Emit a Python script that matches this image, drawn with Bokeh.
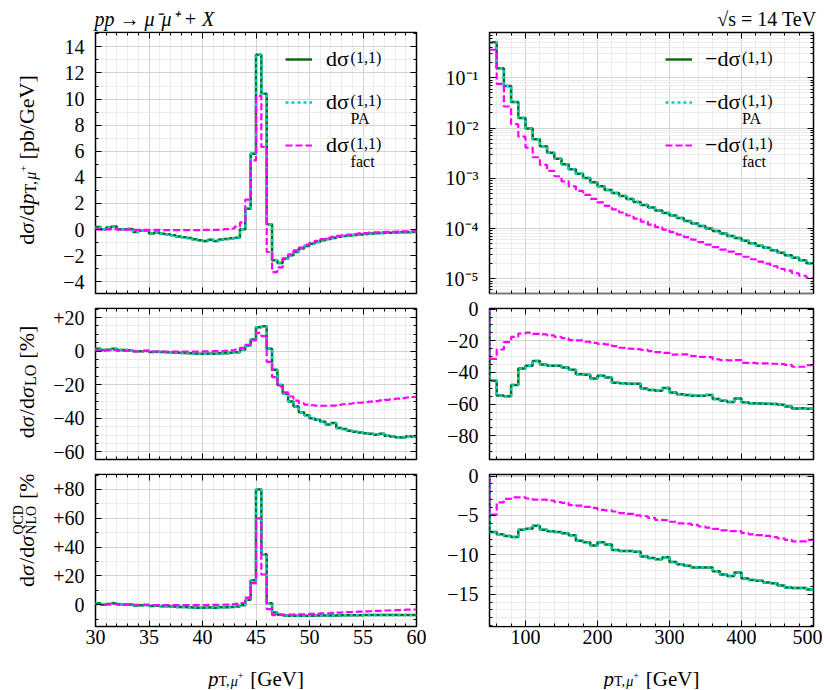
import math
import numpy as np
from bokeh.plotting import figure
from bokeh.layouts import column, row
from bokeh.models import (FixedTicker, Label, Legend, LegendItem, LinearAxis,
                          LogAxis, Range1d)
from bokeh.embed import file_html
from bokeh.resources import INLINE

FONT = "Liberation Serif"

# ---------------- data ----------------
left_edges = np.arange(30.0, 60.01, 0.5)      # 0.5 GeV bins
right_edges = np.arange(50.0, 500.01, 10.0)   # 10 GeV bins

# top-left: dsigma/dpT [pb/GeV]
tl_full = [0.20, 0.03, 0.15, 0.23, 0.03, 0.03, 0.05, -0.18, -0.10, -0.08,
           -0.30, -0.23, -0.33, -0.36, -0.44, -0.54, -0.59, -0.64, -0.74, -0.82,
           -0.87, -0.79, -0.87, -0.77, -0.72, -0.67, -0.62, 0.02, 1.60, 5.80,
           13.40, 10.40, 0.40, -2.36, -2.56, -2.23, -1.97, -1.72, -1.46, -1.26,
           -1.08, -0.95, -0.82, -0.72, -0.64, -0.56, -0.50, -0.45, -0.41, -0.37,
           -0.34, -0.31, -0.29, -0.27, -0.25, -0.24, -0.22, -0.21, -0.20, -0.19]
tl_pa = [0.20, 0.03, 0.15, 0.23, 0.03, 0.03, 0.05, -0.18, -0.10, -0.08,
         -0.30, -0.23, -0.33, -0.36, -0.44, -0.54, -0.59, -0.64, -0.74, -0.82,
         -0.87, -0.79, -0.87, -0.77, -0.72, -0.67, -0.62, 0.02, 1.60, 5.80,
         13.40, 10.40, 0.40, -2.36, -2.56, -2.23, -1.97, -1.72, -1.46, -1.26,
         -1.08, -0.95, -0.82, -0.72, -0.64, -0.56, -0.50, -0.45, -0.41, -0.37,
         -0.34, -0.31, -0.29, -0.27, -0.25, -0.24, -0.22, -0.21, -0.20, -0.19]
tl_fact = [0.02, 0.00, 0.02, 0.03, 0.00, 0.00, 0.00, -0.03, -0.02, -0.02,
           -0.04, -0.03, -0.04, -0.04, -0.04, -0.04, -0.04, -0.04, -0.04, -0.04,
           -0.03, -0.02, -0.02, 0.00, 0.03, 0.08, 0.22, 0.55, 2.30, 5.30,
           10.25, 6.33, -1.72, -3.26, -2.90, -2.20, -1.90, -1.60, -1.38, -1.18,
           -1.00, -0.86, -0.74, -0.64, -0.56, -0.49, -0.43, -0.38, -0.34, -0.30,
           -0.27, -0.24, -0.22, -0.20, -0.18, -0.17, -0.16, -0.14, -0.13, -0.12]

# middle-left: dsigma/dsigma_LO [%]
ml_full = [1.5, 0.7, 0.9, 1.5, 0.7, 0.7, 0.5, 0.0, 0.0, 0.2,
           -0.5, -0.3, -0.5, -0.6, -0.8, -1.0, -1.1, -1.2, -1.4, -1.5,
           -1.6, -1.4, -1.5, -1.3, -1.2, -1.0, -0.6, 0.8, 3.3, 6.9,
           14.2, 14.8, 1.5, -11.0, -20.1, -25.3, -29.9, -32.9, -36.4, -38.2,
           -40.0, -40.8, -42.0, -43.6, -42.8, -45.8, -46.4, -47.4, -48.0, -48.4,
           -48.8, -49.2, -49.7, -49.2, -50.4, -50.8, -51.2, -51.4, -50.6, -51.0]
ml_pa = [1.5, 0.7, 0.9, 1.5, 0.7, 0.7, 0.5, 0.0, 0.0, 0.2,
         -0.5, -0.3, -0.5, -0.6, -0.8, -1.0, -1.1, -1.2, -1.4, -1.5,
         -1.6, -1.4, -1.5, -1.3, -1.2, -1.0, -0.6, 0.8, 3.3, 6.9,
         14.2, 14.8, 1.5, -11.0, -20.1, -25.3, -29.9, -32.9, -36.4, -38.2,
         -40.0, -40.8, -42.0, -43.6, -42.8, -45.8, -46.4, -47.4, -48.0, -48.4,
         -48.8, -49.2, -49.7, -49.2, -50.4, -50.8, -51.2, -51.4, -50.6, -51.0]
ml_fact = [0.6, 0.3, 0.5, 0.6, 0.2, 0.2, 0.1, -0.1, -0.1, 0.0,
           -0.2, -0.2, -0.2, -0.2, -0.2, -0.2, -0.2, -0.2, -0.2, -0.2,
           -0.1, -0.1, 0.0, 0.0, 0.2, 0.5, 1.0, 2.0, 3.8, 6.4,
           10.9, 9.0, -6.4, -15.5, -21.0, -24.5, -27.0, -29.5, -31.0, -31.8,
           -32.2, -32.4, -32.5, -32.5, -32.4, -32.0, -31.6, -31.3, -31.0, -30.7,
           -30.4, -30.0, -29.7, -29.3, -29.0, -28.6, -28.3, -28.0, -27.6, -27.3]

# bottom-left: dsigma/dsigma_NLO^QCD [%]
bl_full = [1.0, 0.0, 0.5, 1.0, 0.3, 0.2, 0.2, -0.5, -0.3, -0.2,
           -0.9, -0.7, -1.0, -1.1, -1.3, -1.5, -1.6, -1.7, -1.9, -2.0,
           -2.1, -1.9, -2.0, -1.8, -1.7, -1.5, -1.2, -0.3, 3.5, 17.0,
           80.0, 35.0, 1.0, -5.3, -7.0, -7.4, -7.6, -7.7, -7.7, -7.6,
           -7.6, -7.5, -7.5, -7.4, -7.4, -7.4, -7.3, -7.3, -7.3, -7.3,
           -7.2, -7.2, -7.2, -7.2, -7.2, -7.1, -7.1, -7.1, -7.1, -7.1]
bl_pa = [1.0, 0.0, 0.5, 1.0, 0.3, 0.2, 0.2, -0.5, -0.3, -0.2,
         -0.9, -0.7, -1.0, -1.1, -1.3, -1.5, -1.6, -1.7, -1.9, -2.0,
         -2.1, -1.9, -2.0, -1.8, -1.7, -1.5, -1.2, -0.3, 3.5, 17.0,
         80.0, 35.0, 1.0, -5.3, -7.0, -7.4, -7.6, -7.7, -7.7, -7.6,
         -7.6, -7.5, -7.5, -7.4, -7.4, -7.4, -7.3, -7.3, -7.3, -7.3,
         -7.2, -7.2, -7.2, -7.2, -7.2, -7.1, -7.1, -7.1, -7.1, -7.1]
bl_fact = [0.4, 0.0, 0.2, 0.4, 0.1, 0.1, 0.0, -0.1, -0.1, 0.0,
           -0.2, -0.2, -0.2, -0.2, -0.2, -0.2, -0.2, -0.2, -0.2, -0.2,
           -0.2, -0.1, -0.1, 0.0, 0.1, 0.3, 0.6, 1.2, 5.0, 15.0,
           60.0, 21.0, -3.0, -7.2, -7.1, -6.9, -6.8, -6.7, -6.6, -6.5,
           -6.4, -6.2, -6.0, -5.9, -5.7, -5.5, -5.3, -5.1, -5.0, -4.8,
           -4.6, -4.5, -4.3, -4.2, -4.0, -3.9, -3.7, -3.6, -3.4, -3.3]

# top-right: -dsigma/dpT [pb/GeV] (log)
tr_full = [0.51, 0.155, 0.0692, 0.0331, 0.0158, 0.00977, 0.00603, 0.00437, 0.00324, 0.00245,
           0.00191, 0.00151, 0.00123, 0.00102, 0.000832, 0.000692, 0.000589, 0.000513, 0.000447, 0.000389,
           0.000339, 0.000295, 0.000263, 0.000229, 0.000204, 0.000182, 0.000162, 0.000141, 0.000126, 0.000112,
           0.000100, 8.91e-5, 7.94e-5, 7.08e-5, 6.46e-5, 5.75e-5, 5.13e-5, 4.57e-5, 4.17e-5, 3.72e-5,
           3.31e-5, 2.95e-5, 2.63e-5, 2.34e-5, 2.04e-5]
tr_pa = [0.51, 0.155, 0.0692, 0.0331, 0.0158, 0.00977, 0.00603, 0.00437, 0.00324, 0.00245,
         0.00191, 0.00151, 0.00123, 0.00102, 0.000832, 0.000692, 0.000589, 0.000513, 0.000447, 0.000389,
         0.000339, 0.000295, 0.000263, 0.000229, 0.000204, 0.000182, 0.000162, 0.000141, 0.000126, 0.000112,
         0.000100, 8.91e-5, 7.94e-5, 7.08e-5, 6.46e-5, 5.75e-5, 5.13e-5, 4.57e-5, 4.17e-5, 3.72e-5,
         3.31e-5, 2.95e-5, 2.63e-5, 2.34e-5, 2.04e-5]
tr_fact = [0.363, 0.0759, 0.0269, 0.0120, 0.00676, 0.00407, 0.00263, 0.00186, 0.00141, 0.00110,
           0.000871, 0.000692, 0.000562, 0.000468, 0.000389, 0.000331, 0.000282, 0.000240, 0.000209, 0.000182,
           0.000158, 0.000138, 0.000120, 0.000107, 9.55e-5, 8.51e-5, 7.59e-5, 6.76e-5, 6.03e-5, 5.37e-5,
           4.79e-5, 4.27e-5, 3.80e-5, 3.47e-5, 3.09e-5, 2.75e-5, 2.45e-5, 2.19e-5, 2.00e-5, 1.78e-5,
           1.58e-5, 1.45e-5, 1.29e-5, 1.15e-5, 1.05e-5]

# middle-right: dsigma/dsigma_LO [%]
mr_full = [-45.3, -54.5, -55.0, -48.0, -37.5, -35.8, -32.8, -35.0, -35.8, -35.8,
           -36.8, -38.3, -41.1, -41.5, -43.8, -42.1, -43.2, -46.5, -46.9, -47.1,
           -47.1, -50.1, -51.1, -51.5, -49.8, -52.6, -53.7, -54.3, -54.7, -54.7,
           -54.3, -56.8, -57.9, -58.7, -56.4, -58.9, -59.4, -59.6, -59.8, -60.0,
           -60.4, -61.5, -62.8, -62.6, -63.0]
mr_pa = [-45.3, -54.5, -55.0, -48.0, -37.5, -35.8, -32.8, -35.0, -35.8, -35.8,
         -36.8, -38.3, -41.1, -41.5, -43.8, -42.1, -43.2, -46.5, -46.9, -47.1,
         -47.1, -50.1, -51.1, -51.5, -49.8, -52.6, -53.7, -54.3, -54.7, -54.7,
         -54.3, -56.8, -57.9, -58.7, -56.4, -58.9, -59.4, -59.6, -59.8, -60.0,
         -60.4, -61.5, -62.8, -62.6, -63.0]
mr_fact = [-31.4, -25.5, -20.8, -17.5, -15.4, -14.9, -15.6, -16.0, -16.6, -17.5,
           -18.3, -19.6, -19.8, -20.6, -21.3, -21.9, -22.3, -23.4, -24.4, -25.0,
           -25.3, -25.7, -26.5, -27.2, -27.6, -28.8, -28.6, -28.6, -29.7, -30.1,
           -30.3, -31.8, -32.2, -32.4, -32.2, -33.9, -33.9, -34.3, -34.3, -34.5,
           -34.7, -35.2, -36.4, -36.4, -35.4]

# bottom-right: dsigma/dsigma_NLO^QCD [%]
br_full = [-7.1, -7.4, -7.6, -7.75, -6.8, -6.7, -6.3, -6.8, -7.0, -7.1,
           -7.25, -7.5, -8.2, -8.4, -8.8, -8.4, -8.7, -9.4, -9.5, -9.5,
           -9.6, -10.2, -10.4, -10.55, -10.3, -10.9, -11.2, -11.4, -11.6, -11.6,
           -11.6, -12.1, -12.5, -12.7, -12.25, -13.0, -13.2, -13.3, -13.5, -13.6,
           -13.9, -14.15, -14.2, -14.2, -14.4]
br_pa = [-7.1, -7.4, -7.6, -7.75, -6.8, -6.7, -6.3, -6.8, -7.0, -7.1,
         -7.25, -7.5, -8.2, -8.4, -8.8, -8.4, -8.7, -9.4, -9.5, -9.5,
         -9.6, -10.2, -10.4, -10.55, -10.3, -10.9, -11.2, -11.4, -11.6, -11.6,
         -11.6, -12.1, -12.5, -12.7, -12.25, -13.0, -13.2, -13.3, -13.5, -13.6,
         -13.9, -14.15, -14.2, -14.2, -14.4]
br_fact = [-4.9, -3.35, -2.9, -2.7, -2.7, -2.85, -3.0, -3.0, -3.1, -3.3,
           -3.4, -3.7, -3.75, -3.9, -4.05, -4.3, -4.35, -4.5, -4.7, -4.8,
           -5.0, -5.1, -5.3, -5.55, -5.6, -5.8, -6.0, -6.05, -6.2, -6.4,
           -6.55, -6.7, -6.9, -7.0, -7.0, -7.25, -7.4, -7.5, -7.6, -7.75,
           -7.9, -8.1, -8.3, -8.3, -8.1]

# ticks and tick labels
left_x_ticks = [30, 35, 40, 45, 50, 55, 60]
left_x_labels = ["30", "35", "40", "45", "50", "55", "60"]
right_x_ticks = [100, 200, 300, 400, 500]
right_x_labels = ["100", "200", "300", "400", "500"]
tl_y_ticks = [-4, -2, 0, 2, 4, 6, 8, 10, 12, 14]
tl_y_labels = ["\u22124", "\u22122", "0", "2", "4", "6", "8", "10", "12", "14"]
ml_y_ticks = [-60, -40, -20, 0, 20]
ml_y_labels = ["\u221260", "\u221240", "\u221220", "0", "+20"]
bl_y_ticks = [0, 20, 40, 60, 80]
bl_y_labels = ["0", "+20", "+40", "+60", "+80"]
tr_y_ticks = [1e-5, 1e-4, 1e-3, 1e-2, 1e-1]
tr_y_labels = ["10\u207b\u2075", "10\u207b\u2074", "10\u207b\u00b3", "10\u207b\u00b2", "10\u207b\u00b9"]
mr_y_ticks = [-80, -60, -40, -20, 0]
mr_y_labels = ["\u221280", "\u221260", "\u221240", "\u221220", "0"]
brr_y_ticks = [-15, -10, -5, 0]
brr_y_labels = ["\u221215", "\u221210", "\u22125", "0"]

TITLE_LEFT = "pp \u2192 \u03bc\u207b\u03bc\u207a + X"
TITLE_RIGHT = "\u221as = 14 TeV"

GREEN = "#0a6e0a"
CYAN = "#00cccc"
MAGENTA = "#ff00ff"

# ---------------- helpers ----------------
REG = {' ': 0.25, '(': 0.333, ')': 0.333, ',': 0.25, '/': 0.278, '[': 0.333,
       ']': 0.333, '+': 0.564, '\u2212': 0.564, '=': 0.564, '%': 0.833,
       '\u2192': 1.0, '\u221a': 0.55, 'A': 0.722, 'C': 0.667, 'D': 0.722,
       'G': 0.722, 'L': 0.611, 'N': 0.722, 'O': 0.722, 'P': 0.556, 'Q': 0.722,
       'T': 0.611, 'V': 0.722, 'X': 0.722, 'a': 0.444, 'b': 0.5, 'c': 0.444,
       'd': 0.5, 'e': 0.444, 'f': 0.333, 'p': 0.5, 't': 0.278, 's': 0.389,
       '\u03c3': 0.55, '\u03bc': 0.5}
ITA = {'p': 0.5, 's': 0.389, 'X': 0.611, '\u03c3': 0.55, '\u03bc': 0.5}


def tw(text, size, ital):
    tab = ITA if ital else REG
    return sum(tab.get(ch, REG.get(ch, 0.5)) for ch in text) * size


def rich(p, pieces, x0, y0, vertical=False, align="center"):
    """Place a run of text pieces (text, size, italic, baseline shift[, advance])."""
    widths = []
    for pc in pieces:
        widths.append(pc[4] if len(pc) > 4 else tw(pc[0], pc[1], pc[2]))
    total = sum(widths)
    pos = {"center": -total / 2.0, "right": -total, "left": 0.0}[align]
    for pc, wd in zip(pieces, widths):
        text, size, ital, dy = pc[:4]
        if text.strip():
            if vertical:
                x, y, ang = x0 + dy, y0 + pos, math.pi / 2
            else:
                x, y, ang = x0 + pos, y0 - dy, 0.0
            p.add_layout(Label(x=x, y=y, x_units="screen", y_units="screen",
                               text=text, angle=ang, text_font=FONT,
                               text_font_size=f"{size}px",
                               text_font_style="italic" if ital else "normal",
                               text_color="black", text_baseline="alphabetic",
                               text_align="left"))
        pos += wd


def stairs(edges, vals, baseline=True):
    xs = list(edges[:-1]) + [edges[-1]]
    ys = list(vals) + [vals[-1]]
    if baseline:
        xs = [edges[0]] + xs
        ys = [0.0] + ys
    return xs, ys


def style_axis(ax, ticks, minor, labels, show, standoff):
    ax.ticker = FixedTicker(ticks=ticks, minor_ticks=minor)
    ax.axis_line_color = None
    ax.major_tick_in = 6
    ax.major_tick_out = 0
    ax.minor_tick_in = 3
    ax.minor_tick_out = 0
    ax.major_tick_line_color = "black"
    ax.minor_tick_line_color = "black"
    if show:
        ax.major_label_overrides = {float(t): l for t, l in zip(ticks, labels)}
        ax.major_label_text_font = FONT
        ax.major_label_text_font_size = "20px"
        ax.major_label_text_color = "black"
        ax.major_label_standoff = standoff
    else:
        ax.major_label_text_font_size = "0px"
        ax.major_label_text_color = None
        ax.major_label_standoff = 0


def make_fig(w, h, bl, brd, bt, bb, xr, yr, xt, xmin, xl, yt, ymin, yl,
             show_x, ylog=False):
    p = figure(width=w, height=h, x_range=Range1d(*xr), y_range=Range1d(*yr),
               y_axis_type="log" if ylog else "linear",
               output_backend="svg", toolbar_location=None,
               min_border_left=bl, min_border_right=brd,
               min_border_top=bt, min_border_bottom=bb)
    p.outline_line_color = "black"
    p.outline_line_width = 1.5
    p.background_fill_color = "white"
    p.border_fill_color = "white"
    style_axis(p.xaxis[0], xt, xmin, xl, show_x, 3)
    style_axis(p.yaxis[0], yt, ymin, yl, True, 11)
    top_ax = LinearAxis()
    style_axis(top_ax, xt, xmin, xl, False, 0)
    p.add_layout(top_ax, "above")
    right_ax = LogAxis() if ylog else LinearAxis()
    style_axis(right_ax, yt, ymin, yl, False, 0)
    p.add_layout(right_ax, "right")
    for g in (p.xgrid[0], p.ygrid[0]):
        g.grid_line_color = "#d4d4d4"
        g.grid_line_width = 1
        g.minor_grid_line_color = "#ececec"
        g.minor_grid_line_width = 1
    return p


def text_strip(w, h):
    p = figure(width=w, height=h, x_range=Range1d(0, 1), y_range=Range1d(0, 1),
               x_axis_location=None, y_axis_location=None,
               output_backend="svg", toolbar_location=None, min_border=0,
               min_border_left=0, min_border_right=0, min_border_top=0,
               min_border_bottom=0)
    p.outline_line_color = None
    p.grid.visible = False
    p.background_fill_color = "white"
    p.border_fill_color = "white"
    return p


def draw(p, edges, full, pa, fact, baseline=True):
    rs = []
    for vals, col, dash, lw in ((full, GREEN, "solid", 2.5),
                                (pa, CYAN, "3 3", 2.5),
                                (fact, MAGENTA, "7 3", 2.2)):
        xs, ys = stairs(edges, vals, baseline)
        rs.append(p.step(x=xs, y=ys, mode="after", line_color=col,
                         line_width=lw, line_dash=dash))
    return rs


# ---------------- geometry (absolute page pixels) ----------------
YLW = 48                      # strip for the y-axis titles
LW, RW = 378, 396             # left / right plot widths
L_BL, L_BR = 47, 10           # left frame 95..416
R_BL, R_BR = 63, 9            # right frame 489..813
TW = YLW + LW + RW            # 822
B_H, C_H, D_H, E_H = 296, 166, 191, 36
B_TOP = 32                    # top-row frame starts at page y 32 (titles above)
C_TOP_PAGE, D_TOP_PAGE, E_TOP = 296, 462, 653

left_minor_x = [v for v in range(30, 61) if v % 5]
right_minor_x = [v for v in range(60, 500, 20) if v % 100]
log_minor = [k * 10.0 ** e for e in range(-6, 0) for k in range(2, 10)]

# top row: frame 32..293
p1 = make_fig(LW, B_H, L_BL, L_BR, B_TOP, 3, (30, 60), (-4.9, 15.1),
              left_x_ticks, left_minor_x, left_x_labels,
              tl_y_ticks, [v for v in range(-4, 16) if v % 2], tl_y_labels, False)
r1 = draw(p1, left_edges, tl_full, tl_pa, tl_fact)
p2 = make_fig(RW, B_H, R_BL, R_BR, B_TOP, 3, (50, 500), (5.1e-6, 0.8),
              right_x_ticks, right_minor_x, right_x_labels,
              tr_y_ticks, log_minor, tr_y_labels, False, ylog=True)
r2 = draw(p2, right_edges, tr_full, tr_pa, tr_fact, baseline=False)

for pt, txt, al, off, style in ((p1, TITLE_LEFT, "left", -1, "italic"),
                                (p2, TITLE_RIGHT, "right", -3, "normal")):
    pt.title.text = txt
    pt.title.align = al
    pt.title.offset = off
    pt.title.standoff = 6
    pt.title.text_font = FONT
    pt.title.text_font_size = "20px"
    pt.title.text_font_style = style
    pt.title.text_color = "black"

# middle row: frame 308..459
p3 = make_fig(LW, C_H, L_BL, L_BR, 12, 3, (30, 60), (-64.5, 25.4),
              left_x_ticks, left_minor_x, left_x_labels,
              ml_y_ticks, [v for v in range(-65, 26, 5) if v % 20], ml_y_labels, False)
draw(p3, left_edges, ml_full, ml_pa, ml_fact)
p4 = make_fig(RW, C_H, R_BL, R_BR, 12, 3, (50, 500), (-95, 0.4),
              right_x_ticks, right_minor_x, right_x_labels,
              mr_y_ticks, [v for v in range(-95, 1, 5) if v % 20], mr_y_labels, False)
draw(p4, right_edges, mr_full, mr_pa, mr_fact)

# bottom row: frame 474..626
p5 = make_fig(LW, D_H, L_BL, L_BR, 12, 27, (30, 60), (-15.1, 90.4),
              left_x_ticks, left_minor_x, left_x_labels,
              bl_y_ticks, [-10, 10, 30, 50, 70, 90], bl_y_labels, True)
draw(p5, left_edges, bl_full, bl_pa, bl_fact)
p6 = make_fig(RW, D_H, R_BL, R_BR, 12, 27, (50, 500), (-19.1, 0.2),
              right_x_ticks, right_minor_x, right_x_labels,
              brr_y_ticks, [v for v in range(-19, 1) if v % 5], brr_y_labels, True)
draw(p6, right_edges, br_full, br_pa, br_fact)

# ---------------- legends ----------------
LEG_FS = 22
SUP_FS = 16
rows_mid = [59, 102, 145]      # page y of the legend rows
FRAME_BOTTOM = 293             # page y of the top-row frame bottom


def add_legend(p, renderers, main, vx, gw, standoff):
    items = [LegendItem(label=main, renderers=[r]) for r in renderers]
    leg = Legend(items=items, location=(vx, 128), orientation="vertical",
                 glyph_width=gw, glyph_height=40, label_height=40,
                 label_standoff=standoff, spacing=3, padding=0, margin=0,
                 border_line_color=None, background_fill_alpha=0,
                 label_text_font=FONT, label_text_font_size=f"{LEG_FS}px",
                 label_text_color="black")
    p.add_layout(leg)
    x_after = vx + gw + standoff + tw(main, LEG_FS, False) + 1
    subs = [None, "PA", "fact"]
    for i, mid in enumerate(rows_mid):
        rich(p, [("(1,1)", SUP_FS, False, 0)], x_after,
             FRAME_BOTTOM - (mid - 2), align="left")
        if subs[i]:
            rich(p, [(subs[i], SUP_FS, False, 0)], x_after,
                 FRAME_BOTTOM - (mid + 16), align="left")


add_legend(p1, r1, "d\u03c3", 190, 27, 14)
add_legend(p2, r2, "\u2212d\u03c3", 176, 27, 13)

# ---------------- y-axis title strips ----------------
AX_FS = 22
SUB_FS = 16
yl1 = text_strip(YLW, B_H)
yl2 = text_strip(YLW, C_H)
yl3 = text_strip(YLW, D_H)
YBASE = 26
SP = ("", 0, False, 0, 6)
rich(yl1, [("d", AX_FS, False, 0), ("\u03c3", AX_FS, True, 0), ("/", AX_FS, False, 0),
           ("d", AX_FS, False, 0), ("p", AX_FS, True, 0), ("T,", SUB_FS, False, 4),
           ("\u03bc", SUB_FS, True, 4), ("+", 11, False, -3), SP,
           ("[pb/GeV]", AX_FS, False, 0)],
     YBASE, B_H - 162.5, vertical=True)
rich(yl2, [("d", AX_FS, False, 0), ("\u03c3", AX_FS, True, 0), ("/", AX_FS, False, 0),
           ("d", AX_FS, False, 0), ("\u03c3", AX_FS, True, 0), ("LO", SUB_FS, False, 4),
           SP, ("[%]", AX_FS, False, 0)],
     YBASE, C_H - (384.5 - C_TOP_PAGE), vertical=True)
rich(yl3, [("d", AX_FS, False, 0), ("\u03c3", AX_FS, True, 0), ("/", AX_FS, False, 0),
           ("d", AX_FS, False, 0), ("\u03c3", AX_FS, True, 0),
           ("NLO", 14, False, 5, 0.0), ("QCD", 14, False, -8),
           SP, ("[%]", AX_FS, False, 0)],
     YBASE, D_H - (553 - D_TOP_PAGE), vertical=True)

# ---------------- x-axis title strip ----------------
xs_strip = text_strip(TW, E_H)
SPX = ("", 0, False, 0, 7)
for cx in (YLW + L_BL + 160.5, YLW + LW + R_BL + 162.0):
    rich(xs_strip, [("p", 21, True, 0), ("T,", 14, False, 2.5),
                    ("\u03bc", 14, True, 2.5), ("+", 10, False, -3), SPX,
                    ("[GeV]", 21, False, 0)],
         cx, E_H - (678 - E_TOP))

layout = column(row(yl1, p1, p2), row(yl2, p3, p4), row(yl3, p5, p6), xs_strip)
with open("out.html", "w", encoding="utf-8") as f:
    f.write(file_html(layout, INLINE, title="pT mu+ distribution"))
